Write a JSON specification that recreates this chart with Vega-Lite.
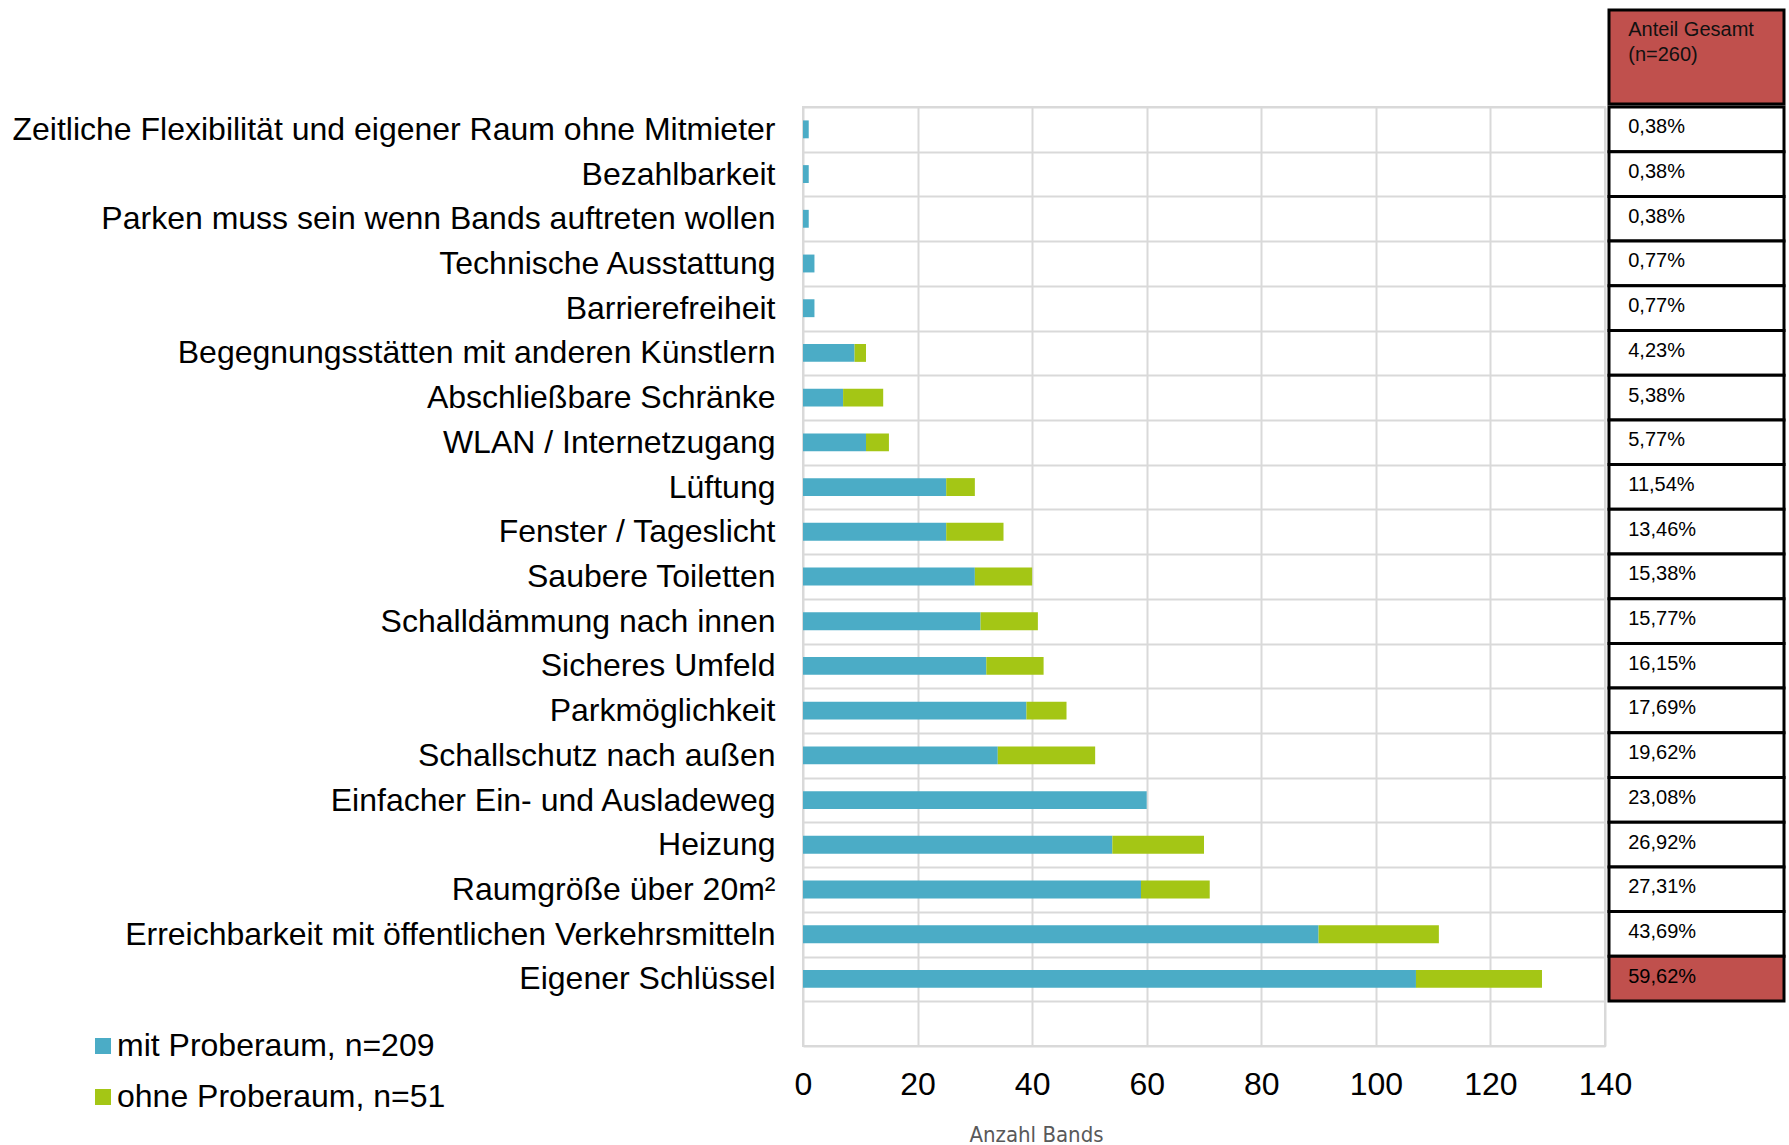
{
  "$schema": "https://vega.github.io/schema/vega-lite/v6.json",
  "padding": {"left": 10, "top": 8, "right": 0, "bottom": 0},
  "autosize": {"type": "pad"},
  "background": "white",
  "config": {"view": {"stroke": null}, "font": "Liberation Sans"},
  "datasets": {
    "bars": [
      {"cat": "Zeitliche Flexibilität und eigener Raum ohne Mitmieter", "grp": "mit Proberaum, n=209", "value": 1},
      {"cat": "Bezahlbarkeit", "grp": "mit Proberaum, n=209", "value": 1},
      {"cat": "Parken muss sein wenn Bands auftreten wollen", "grp": "mit Proberaum, n=209", "value": 1},
      {"cat": "Technische Ausstattung", "grp": "mit Proberaum, n=209", "value": 2},
      {"cat": "Barrierefreiheit", "grp": "mit Proberaum, n=209", "value": 2},
      {"cat": "Begegnungsstätten mit anderen Künstlern", "grp": "mit Proberaum, n=209", "value": 9},
      {"cat": "Begegnungsstätten mit anderen Künstlern", "grp": "ohne Proberaum, n=51", "value": 2},
      {"cat": "Abschließbare Schränke", "grp": "mit Proberaum, n=209", "value": 7},
      {"cat": "Abschließbare Schränke", "grp": "ohne Proberaum, n=51", "value": 7},
      {"cat": "WLAN / Internetzugang", "grp": "mit Proberaum, n=209", "value": 11},
      {"cat": "WLAN / Internetzugang", "grp": "ohne Proberaum, n=51", "value": 4},
      {"cat": "Lüftung", "grp": "mit Proberaum, n=209", "value": 25},
      {"cat": "Lüftung", "grp": "ohne Proberaum, n=51", "value": 5},
      {"cat": "Fenster / Tageslicht", "grp": "mit Proberaum, n=209", "value": 25},
      {"cat": "Fenster / Tageslicht", "grp": "ohne Proberaum, n=51", "value": 10},
      {"cat": "Saubere Toiletten", "grp": "mit Proberaum, n=209", "value": 30},
      {"cat": "Saubere Toiletten", "grp": "ohne Proberaum, n=51", "value": 10},
      {"cat": "Schalldämmung nach innen", "grp": "mit Proberaum, n=209", "value": 31},
      {"cat": "Schalldämmung nach innen", "grp": "ohne Proberaum, n=51", "value": 10},
      {"cat": "Sicheres Umfeld", "grp": "mit Proberaum, n=209", "value": 32},
      {"cat": "Sicheres Umfeld", "grp": "ohne Proberaum, n=51", "value": 10},
      {"cat": "Parkmöglichkeit", "grp": "mit Proberaum, n=209", "value": 39},
      {"cat": "Parkmöglichkeit", "grp": "ohne Proberaum, n=51", "value": 7},
      {"cat": "Schallschutz nach außen", "grp": "mit Proberaum, n=209", "value": 34},
      {"cat": "Schallschutz nach außen", "grp": "ohne Proberaum, n=51", "value": 17},
      {"cat": "Einfacher Ein- und Ausladeweg", "grp": "mit Proberaum, n=209", "value": 60},
      {"cat": "Heizung", "grp": "mit Proberaum, n=209", "value": 54},
      {"cat": "Heizung", "grp": "ohne Proberaum, n=51", "value": 16},
      {"cat": "Raumgröße über 20m²", "grp": "mit Proberaum, n=209", "value": 59},
      {"cat": "Raumgröße über 20m²", "grp": "ohne Proberaum, n=51", "value": 12},
      {"cat": "Erreichbarkeit mit öffentlichen Verkehrsmitteln", "grp": "mit Proberaum, n=209", "value": 90},
      {"cat": "Erreichbarkeit mit öffentlichen Verkehrsmitteln", "grp": "ohne Proberaum, n=51", "value": 21},
      {"cat": "Eigener Schlüssel", "grp": "mit Proberaum, n=209", "value": 107},
      {"cat": "Eigener Schlüssel", "grp": "ohne Proberaum, n=51", "value": 22}
    ],
    "table": [
      {"cat": "Zeitliche Flexibilität und eigener Raum ohne Mitmieter", "pct": "0,38%"},
      {"cat": "Bezahlbarkeit", "pct": "0,38%"},
      {"cat": "Parken muss sein wenn Bands auftreten wollen", "pct": "0,38%"},
      {"cat": "Technische Ausstattung", "pct": "0,77%"},
      {"cat": "Barrierefreiheit", "pct": "0,77%"},
      {"cat": "Begegnungsstätten mit anderen Künstlern", "pct": "4,23%"},
      {"cat": "Abschließbare Schränke", "pct": "5,38%"},
      {"cat": "WLAN / Internetzugang", "pct": "5,77%"},
      {"cat": "Lüftung", "pct": "11,54%"},
      {"cat": "Fenster / Tageslicht", "pct": "13,46%"},
      {"cat": "Saubere Toiletten", "pct": "15,38%"},
      {"cat": "Schalldämmung nach innen", "pct": "15,77%"},
      {"cat": "Sicheres Umfeld", "pct": "16,15%"},
      {"cat": "Parkmöglichkeit", "pct": "17,69%"},
      {"cat": "Schallschutz nach außen", "pct": "19,62%"},
      {"cat": "Einfacher Ein- und Ausladeweg", "pct": "23,08%"},
      {"cat": "Heizung", "pct": "26,92%"},
      {"cat": "Raumgröße über 20m²", "pct": "27,31%"},
      {"cat": "Erreichbarkeit mit öffentlichen Verkehrsmitteln", "pct": "43,69%"},
      {"cat": "Eigener Schlüssel", "pct": "59,62%"}
    ],
    "header": [{"t": "Anteil Gesamt\n(n=260)"}]
  },
  "columns": 2,
  "spacing": {"row": 0, "column": 4},
  "bounds": "flush",
  "align": "each",
  "concat": [
    {
      "width": 802,
      "height": 97,
      "data": {"values": [{"t": ""}]},
      "mark": {"type": "text"},
      "encoding": {"text": {"field": "t"}}
    },
    {
      "width": 175,
      "height": 97,
      "data": {"name": "header"},
      "layer": [
        {
          "mark": {"type": "rect", "fill": "#C0504D", "stroke": "black", "strokeWidth": 3},
          "encoding": {
            "x": {"datum": 0, "type": "quantitative", "scale": {"domain": [0, 1]}, "axis": null},
            "x2": {"datum": 1},
            "y": {"datum": 0, "type": "quantitative", "scale": {"domain": [0, 97], "reverse": true}, "axis": null},
            "y2": {"datum": 97}
          }
        },
        {
          "mark": {"type": "text", "align": "left", "baseline": "alphabetic", "fontSize": 20, "lineHeight": 25, "color": "#111111", "lineBreak": "\n"},
          "encoding": {
            "x": {"datum": 0.11, "type": "quantitative"},
            "y": {"datum": 27, "type": "quantitative"},
            "text": {"field": "t"}
          }
        }
      ]
    },
    {
      "width": 802,
      "height": 939,
      "data": {"name": "bars"},
      "view": {"stroke": "#D9D9D9", "strokeWidth": 2},
      "mark": {"type": "bar", "height": {"band": 0.4}},
      "encoding": {
        "y": {
          "field": "cat", "type": "nominal",
          "scale": {"domain": [
            "Zeitliche Flexibilität und eigener Raum ohne Mitmieter", "Bezahlbarkeit", "Parken muss sein wenn Bands auftreten wollen", "Technische Ausstattung", "Barrierefreiheit", "Begegnungsstätten mit anderen Künstlern", "Abschließbare Schränke", "WLAN / Internetzugang", "Lüftung", "Fenster / Tageslicht", "Saubere Toiletten", "Schalldämmung nach innen", "Sicheres Umfeld", "Parkmöglichkeit", "Schallschutz nach außen", "Einfacher Ein- und Ausladeweg", "Heizung", "Raumgröße über 20m²", "Erreichbarkeit mit öffentlichen Verkehrsmitteln", "Eigener Schlüssel", " "
          ], "paddingInner": 0, "paddingOuter": 0},
          "axis": {"title": null, "labelFontSize": 32, "labelColor": "black", "labelPadding": 28, "ticks": false, "domain": false, "grid": true, "gridColor": "#D9D9D9", "gridWidth": 2, "tickBand": "extent", "labelLimit": 1000}
        },
        "x": {
          "field": "value", "type": "quantitative", "stack": "zero",
          "scale": {"domain": [0, 140], "nice": false},
          "axis": {"values": [0, 20, 40, 60, 80, 100, 120, 140], "title": "Anzahl Bands", "labelFontSize": 32, "labelColor": "black", "ticks": false, "tickSize": 0, "domain": false, "grid": true, "gridColor": "#D9D9D9", "gridWidth": 2, "labelBaseline": "alphabetic", "labelPadding": 48, "labelFlush": false, "labelOverlap": false, "titleFont": "DejaVu Sans Condensed", "titleFontSize": 22, "titleFontWeight": "normal", "titleColor": "#595959", "titleX": 233, "titleY": 95, "titleAlign": "center", "titleBaseline": "alphabetic"}
        },
        "color": {
          "field": "grp", "type": "nominal",
          "scale": {"domain": ["mit Proberaum, n=209", "ohne Proberaum, n=51"], "range": ["#4BACC6", "#A4C615"]},
          "legend": {"title": null, "orient": "none", "legendX": -716, "legendY": 1020, "symbolType": "square", "symbolSize": 256, "labelFontSize": 32, "labelColor": "black", "rowPadding": 19, "labelOffset": -2, "padding": 0, "symbolStrokeWidth": 0, "labelLimit": 600}
        }
      }
    },
    {
      "width": 175,
      "height": 894,
      "data": {"name": "table"},
      "layer": [
        {
          "mark": {"type": "rect", "stroke": "black", "strokeWidth": 3},
          "encoding": {
            "y": {"field": "cat", "type": "nominal", "sort": null, "scale": {"paddingInner": 0, "paddingOuter": 0}, "axis": null},
            "x": {"datum": 0, "type": "quantitative", "scale": {"domain": [0, 1]}, "axis": null},
            "x2": {"datum": 1},
            "fill": {"condition": {"test": "datum.cat === 'Eigener Schlüssel'", "value": "#C0504D"}, "value": "white"}
          }
        },
        {
          "mark": {"type": "text", "align": "left", "baseline": "middle", "fontSize": 20, "color": "black", "dy": -2},
          "encoding": {
            "y": {"field": "cat", "type": "nominal", "sort": null},
            "x": {"datum": 0.11, "type": "quantitative"},
            "text": {"field": "pct"}
          }
        }
      ]
    }
  ]
}
